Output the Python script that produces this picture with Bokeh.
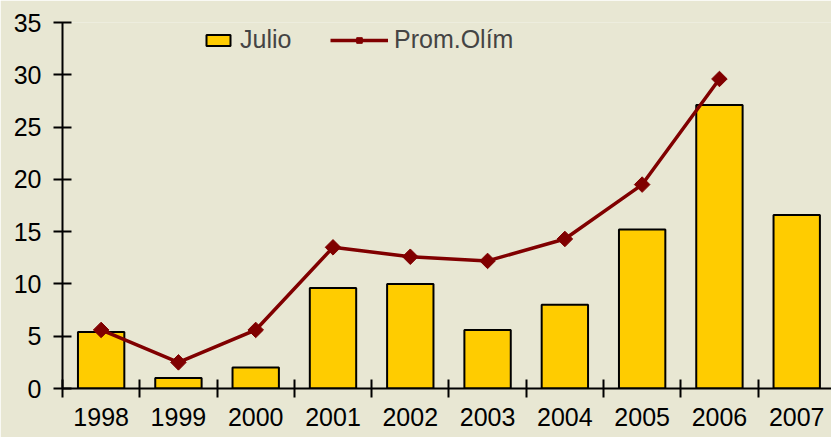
import math
from bokeh.plotting import figure
from bokeh.models import FixedTicker, Range1d, Legend, LegendItem, ColumnDataSource
from bokeh.embed import file_html
from bokeh.resources import INLINE

years = ["1998", "1999", "2000", "2001", "2002", "2003", "2004", "2005", "2006", "2007"]
julio = [5.4, 1.0, 2.0, 9.6, 10.0, 5.6, 8.0, 15.2, 27.1, 16.6]
prom_olim = [5.6, 2.5, 5.6, 13.5, 12.6, 12.2, 14.3, 19.5, 29.6]
y_ticks = [0, 5, 10, 15, 20, 25, 30, 35]

BG = "#E8E7D3"
FONT = "Liberation Sans"
FS = "25px"

x_bar = [i + 0.5 for i in range(len(years))]
x_line = [i + 0.5 for i in range(len(prom_olim))]
bar_src = ColumnDataSource(dict(x=x_bar, top=julio))
line_src = ColumnDataSource(dict(x=x_line, y=prom_olim))

p = figure(width=831, height=437, output_backend="svg", toolbar_location=None,
           x_range=Range1d(0, 9.95), y_range=Range1d(0, 35),
           min_border_left=62, min_border_right=0, min_border_top=22, min_border_bottom=49)
p.background_fill_color = BG
p.border_fill_color = BG
p.outline_line_color = None
p.xgrid.grid_line_color = None
p.ygrid.grid_line_color = None

bars = p.vbar(x="x", top="top", width=0.6, source=bar_src,
              fill_color="#FFCC00", line_color="black", line_width=2)
line = p.line(x="x", y="y", source=line_src, line_color="#800000", line_width=3.5)
marks = p.scatter(x="x", y="y", source=line_src, marker="square", size=11, angle=math.pi / 4,
                  fill_color="#800000", line_color="#800000")

# y axis
ya = p.yaxis[0]
ya.ticker = FixedTicker(ticks=y_ticks)
ya.axis_line_width = 2
ya.major_tick_line_width = 2
ya.major_tick_in = 9
ya.major_tick_out = 9
ya.minor_tick_line_color = None
ya.major_label_standoff = 12
ya.major_label_text_font = FONT
ya.major_label_text_font_size = FS
ya.major_label_text_color = "black"

# x axis
xa = p.xaxis[0]
xa.ticker = FixedTicker(ticks=x_bar, minor_ticks=list(range(0, len(years) + 1)))
xa.major_label_overrides = {xv: yr for xv, yr in zip(x_bar, years)}
xa.axis_line_width = 2
xa.major_tick_line_color = None
xa.minor_tick_line_color = "black"
xa.minor_tick_line_width = 2
xa.minor_tick_in = 9
xa.minor_tick_out = 9
xa.major_tick_in = 0
xa.major_tick_out = 0
xa.major_label_standoff = 10
xa.major_label_text_font = FONT
xa.major_label_text_font_size = FS
xa.major_label_text_color = "black"

leg1 = Legend(items=[LegendItem(label="Julio", renderers=[bars])],
              location=(141, 334), padding=0, margin=0, glyph_width=30, glyph_height=14,
              label_standoff=7, border_line_alpha=0, background_fill_alpha=0,
              label_text_font=FONT, label_text_font_size=FS)
leg2 = Legend(items=[LegendItem(label="Prom.Olím", renderers=[line, marks])],
              location=(268, 334), padding=0, margin=0, glyph_width=58, glyph_height=14,
              label_standoff=6, border_line_alpha=0, background_fill_alpha=0,
              label_text_font=FONT, label_text_font_size=FS)
p.add_layout(leg1)
p.add_layout(leg2)

open("out.html", "w").write(file_html(p, INLINE))
